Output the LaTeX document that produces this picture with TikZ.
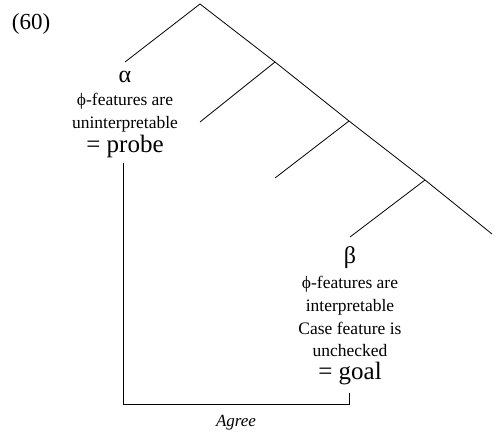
\documentclass[tikz,border=0pt]{standalone}
\usepackage{fontspec}
\setmainfont{Liberation Serif}
\begin{document}
\begin{tikzpicture}[x=1pt,y=-1pt,
  branch/.style={line width=0.8pt},
  small/.style={anchor=base,inner sep=0pt,font=\fontsize{17.5}{19}\selectfont},
  big/.style={anchor=base,inner sep=0pt,font=\fontsize{25}{27}\selectfont},
  greek/.style={anchor=base,inner sep=0pt,font=\fontsize{24}{26}\selectfont},
  lbl/.style={anchor=base,inner sep=0pt,font=\fontsize{17}{19}\selectfont\itshape}]
\useasboundingbox (0,0) rectangle (495,431);
\node[anchor=base,inner sep=0pt,font=\fontsize{23}{25}\selectfont] (ex) at (31,29) {(60)};
% tree
\coordinate (root) at (200,4);
\coordinate (s1) at (275,62);
\coordinate (s2) at (349,121);
\coordinate (s3) at (425,180);
\coordinate (s4) at (492,234);
\coordinate (la) at (125,62);
\coordinate (l1) at (200,122);
\coordinate (l2) at (275,178);
\coordinate (lb) at (350,237);
\draw[branch] (la) -- (root) -- (s1) -- (s2) -- (s3) -- (s4);
\draw[branch] (s1) -- (l1);
\draw[branch] (s2) -- (l2);
\draw[branch] (s3) -- (lb);
% alpha block
\node[greek] (alpha) at (125,82) {α};
\node[small] (a1) at (125,105) {ϕ-features are};
\node[small] (a2) at (125,128) {uninterpretable};
\node[big] (probe) at (125,152) {= probe};
% beta block
\node[greek] (beta) at (350,263) {β};
\node[small] (b1) at (350,288) {ϕ-features are};
\node[small] (b2) at (350,311) {interpretable};
\node[small] (b3) at (350,334) {Case feature is};
\node[small] (b4) at (350,356) {unchecked};
\node[big] (goal) at (350,379) {= goal};
% agree connector
\coordinate (pa) at (123,163);
\coordinate (c1) at (123,404);
\coordinate (c2) at (349,404);
\coordinate (ga) at (349,393);
\draw[branch] (pa) -- (c1) -- (c2) -- (ga);
\node[lbl] (agree) at (236,426) {Agree};
\end{tikzpicture}
\end{document}
